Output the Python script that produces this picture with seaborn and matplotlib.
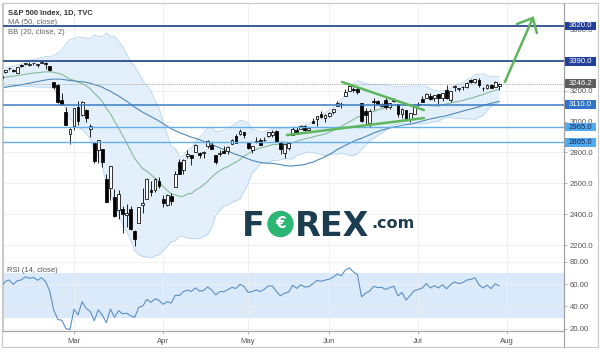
import numpy as np
import pandas as pd
import matplotlib
matplotlib.use("Agg")
import matplotlib.pyplot as plt
import seaborn as sns
from matplotlib.patches import Rectangle, Ellipse
from matplotlib.lines import Line2D
from matplotlib.ticker import FormatStrFormatter

# ---------------- data ----------------
# closes before the visible window (used to seed MA / BB / RSI)
warmup_close = [
    3066.9, 3078.3, 3074.6, 3076.8, 3085.2, 3093.1, 3087.0, 3091.8, 3094.0, 3096.6,
    3120.5, 3122.0, 3120.2, 3108.5, 3103.5, 3110.3, 3133.6, 3140.5, 3153.6, 3141.0,
    3113.9, 3093.2, 3112.8, 3117.4, 3145.9, 3136.0, 3132.5, 3141.6, 3168.6, 3168.8,
    3191.5, 3192.5, 3191.1, 3205.4, 3221.2, 3224.0, 3223.4, 3239.9, 3240.0, 3221.3, 3230.8,
    3257.9, 3234.9, 3246.3, 3237.2, 3253.1, 3274.7, 3265.4, 3288.1, 3283.2, 3289.3,
    3316.8, 3329.6, 3321.0, 3321.7, 3325.5, 3295.5, 3243.6, 3276.2, 3273.4, 3283.7, 3225.5]

holidays = ["2020-02-17", "2020-04-10", "2020-05-25", "2020-07-03"]

opens = [
    3235.7, 3280.6, 3324.9, 3344.9, 3335.5, 3318.3, 3365.9, 3370.5, 3365.9, 3378.1,
    3369.0, 3380.4, 3380.5, 3360.5, 3257.6, 3238.9, 3139.9, 3062.5, 2916.9,
    2974.3, 3096.5, 3045.8, 3075.7, 2954.2, 2863.9, 2813.5, 2825.6, 2630.9, 2570.0,
    2508.6, 2425.7, 2436.5, 2393.5, 2431.9, 2290.7, 2344.4, 2457.8, 2501.3, 2555.9, 2559.0, 2614.7,
    2498.1, 2458.5, 2514.9, 2578.3, 2738.7, 2685.0, 2777.0, 2782.5, 2805.1, 2795.6,
    2799.3, 2842.4, 2845.6, 2784.8, 2787.9, 2810.4, 2812.6, 2854.7, 2910.0, 2918.5, 2930.9,
    2869.1, 2815.0, 2868.9, 2883.1, 2878.3, 2908.8, 2915.5, 2939.5, 2865.9, 2794.5,
    2830.0, 2913.9, 2948.6, 2953.6, 2970.0, 2948.1, 3004.1, 3015.7, 3046.6, 3025.2,
    3038.8, 3064.2, 3098.9, 3111.6, 3163.8, 3199.9, 3213.3, 3213.4, 3123.5, 3071.0,
    2993.8, 3131.0, 3136.1, 3101.6, 3140.3, 3094.4, 3138.7, 3114.4, 3046.6, 3073.2, 3018.6, 3050.2,
    3105.9, 3143.6, 3155.3, 3166.4, 3153.1, 3176.2, 3152.5, 3205.1, 3141.1, 3226.0,
    3208.4, 3224.2, 3224.3, 3268.5, 3254.9, 3271.6, 3218.6, 3219.8, 3234.3, 3227.2, 3231.8]

highs = [
    3268.4, 3306.9, 3337.6, 3348.0, 3341.4, 3352.3, 3375.6, 3381.5, 3385.1, 3380.7,
    3375.0, 3393.5, 3389.2, 3360.8, 3259.8, 3247.0, 3182.5, 3097.1, 2959.7,
    3091.0, 3136.7, 3131.0, 3083.0, 2985.9, 2863.9, 2882.6, 2825.6, 2660.9, 2711.3,
    2563.0, 2553.9, 2453.6, 2467.0, 2453.0, 2300.7, 2449.7, 2571.4, 2637.0, 2615.9, 2631.8, 2641.4,
    2522.8, 2533.2, 2538.2, 2676.9, 2756.9, 2760.8, 2818.6, 2782.5, 2851.9, 2801.9,
    2806.5, 2879.2, 2869.0, 2785.5, 2815.1, 2844.9, 2842.7, 2887.7, 2921.2, 2954.9, 2930.9,
    2869.1, 2844.2, 2898.2, 2891.1, 2901.9, 2932.2, 2944.3, 2945.8, 2874.1, 2852.8,
    2865.0, 2968.1, 2964.2, 2980.3, 2978.5, 2956.8, 3021.7, 3036.3, 3068.7, 3049.2,
    3062.2, 3081.1, 3130.9, 3128.9, 3211.7, 3233.1, 3222.7, 3223.3, 3123.5, 3088.4,
    3079.8, 3153.5, 3141.2, 3120.0, 3155.5, 3120.9, 3154.9, 3115.0, 3086.3, 3073.7, 3053.9, 3111.5,
    3128.4, 3165.8, 3182.6, 3184.2, 3171.8, 3179.8, 3186.8, 3235.3, 3201.0, 3238.3,
    3220.4, 3233.5, 3258.6, 3277.3, 3279.3, 3280.0, 3227.3, 3241.4, 3243.7, 3264.7, 3250.9]

lows = [
    3235.7, 3280.6, 3313.8, 3334.4, 3322.1, 3317.8, 3352.7, 3369.7, 3360.5, 3366.2,
    3355.6, 3378.8, 3341.0, 3328.5, 3214.7, 3118.8, 3109.0, 2977.4, 2855.8,
    2945.2, 2976.6, 3034.4, 2999.8, 2901.5, 2734.4, 2734.0, 2707.2, 2478.9, 2492.4,
    2380.9, 2367.0, 2280.5, 2319.8, 2295.6, 2191.9, 2344.4, 2407.5, 2500.7, 2520.0, 2545.3, 2571.2,
    2447.5, 2455.8, 2460.0, 2574.6, 2657.7, 2663.3, 2762.4, 2721.2, 2805.1, 2761.5,
    2764.3, 2830.9, 2820.4, 2727.1, 2776.0, 2794.3, 2791.8, 2852.9, 2860.7, 2912.2, 2892.5,
    2821.6, 2797.9, 2863.6, 2847.7, 2876.5, 2902.9, 2903.4, 2869.6, 2793.2, 2766.6,
    2816.8, 2913.9, 2922.4, 2953.6, 2938.6, 2933.6, 2988.2, 2969.8, 3023.4, 2998.6,
    3031.5, 3051.6, 3098.9, 3090.4, 3163.8, 3196.0, 3193.1, 3181.5, 2999.5, 2984.5,
    2965.7, 3076.1, 3108.0, 3093.5, 3083.1, 3079.4, 3127.1, 3032.1, 3024.0, 3004.6, 2999.7, 3047.8,
    3101.2, 3124.5, 3155.3, 3142.9, 3136.5, 3115.7, 3136.2, 3149.4, 3127.7, 3200.8,
    3198.6, 3205.7, 3215.2, 3247.8, 3253.1, 3222.7, 3200.1, 3214.3, 3216.2, 3227.2, 3204.1]

closes = [
    3248.9, 3297.6, 3334.7, 3345.8, 3327.7, 3352.1, 3357.8, 3379.5, 3373.9, 3380.2,
    3370.3, 3386.2, 3373.2, 3337.8, 3225.9, 3128.2, 3116.4, 2978.8, 2954.2,
    3090.2, 3003.4, 3130.1, 3023.9, 2972.4, 2746.6, 2882.2, 2741.4, 2480.6, 2711.0,
    2386.1, 2529.2, 2398.1, 2409.4, 2304.9, 2237.4, 2447.3, 2475.6, 2630.1, 2541.5, 2626.7, 2584.6,
    2470.5, 2526.9, 2488.7, 2663.7, 2659.4, 2750.0, 2789.8, 2761.6, 2846.1, 2783.4,
    2799.6, 2874.6, 2823.2, 2736.6, 2799.3, 2797.8, 2836.7, 2878.5, 2863.4, 2939.5, 2912.4,
    2830.7, 2842.7, 2868.4, 2848.4, 2881.2, 2929.8, 2930.3, 2870.1, 2820.0, 2852.5,
    2863.7, 2953.9, 2922.9, 2971.6, 2948.5, 2955.5, 2991.8, 3036.1, 3029.7, 3044.3,
    3055.7, 3080.8, 3122.9, 3112.4, 3193.9, 3232.4, 3207.2, 3190.1, 3002.1, 3041.3,
    3066.6, 3124.7, 3113.5, 3115.3, 3097.7, 3117.9, 3131.3, 3050.3, 3083.8, 3009.1, 3053.2, 3100.3,
    3115.9, 3130.0, 3179.7, 3145.3, 3169.9, 3152.1, 3185.0, 3155.2, 3197.5, 3226.6,
    3215.6, 3224.7, 3251.8, 3257.3, 3276.0, 3235.7, 3215.6, 3239.4, 3218.4, 3258.4, 3246.2]

level_prices = [3620.0, 3390.0, 3110.0, 2965.0, 2865.0]
last_price = 3246.2
month_names = ["Mar", "Apr", "May", "Jun", "Jul", "Aug"]
price_ticks = [2200, 2400, 2600, 2800, 3000, 3200, 3400, 3600]
rsi_ticks = [20, 40, 60, 80]

# hand-drawn annotations (bar position, price)
trend_upper_x, trend_upper_y = [85.2, 105.4], [3257, 3075]
trend_lower_x, trend_lower_y = [71.6, 105.4], [2913, 3023]
arrow_x, arrow_y = [125.4, 132.3], [3257, 3672]
arrow_head_x, arrow_head_y = [128.4, 132.3, 133.3], [3633, 3672, 3575]

# ---------------- indicators ----------------
dates = pd.bdate_range("2020-02-03", "2020-07-30", freq="C", holidays=holidays)
n = len(closes)
full = pd.Series(warmup_close + closes, dtype=float)
ma50 = full.rolling(50).mean().to_numpy()[-n:]
basis = full.rolling(20).mean()
sd = full.rolling(20).std(ddof=0)
bb_up = (basis + 2 * sd).to_numpy()[-n:]
bb_lo = (basis - 2 * sd).to_numpy()[-n:]
basis = basis.to_numpy()[-n:]
delta = full.diff()
gain = delta.clip(lower=0).ewm(alpha=1 / 14, adjust=False).mean()
loss = (-delta.clip(upper=0)).ewm(alpha=1 / 14, adjust=False).mean()
rsi = (100 - 100 / (1 + gain / loss)).to_numpy()[-n:]

x = np.arange(n)
o, h, l, c = map(np.asarray, (opens, highs, lows, closes))

month_pos = []
for m in [3, 4, 5, 6, 7]:
    month_pos.append(int(np.argmax(dates.month == m)))
month_pos.append(n - 1 + int(np.busday_count("2020-07-30", "2020-08-03")))

# ---------------- figure ----------------
sns.set_theme(style="white")
plt.rcParams["font.family"] = ["Liberation Sans", "DejaVu Sans"]

W, H = 600, 352
fig = plt.figure(figsize=(W / 100, H / 100), dpi=100)
fx = lambda px: px / W
fy = lambda py: 1 - py / H

ax = fig.add_axes([fx(3), fy(257.7), fx(561), (257.7 - 3) / H])
ax2 = fig.add_axes([fx(3), fy(330.7), fx(561), (330.7 - 257.7) / H], sharex=ax)

grid_c = "#eeeeee"
for a in (ax, ax2):
    a.set_axisbelow(True)
    a.grid(True, color=grid_c, lw=0.6)
    a.set_facecolor("white")

# Bollinger band
ax.fill_between(x, bb_lo, bb_up, color="#e3f0fb", zorder=1, lw=0)
sns.lineplot(x=x, y=bb_up, ax=ax, color="#b6d5f0", lw=0.6, zorder=2)
sns.lineplot(x=x, y=bb_lo, ax=ax, color="#b6d5f0", lw=0.6, zorder=2)
sns.lineplot(x=x, y=basis, ax=ax, color="#86ba98", lw=0.8, zorder=2)
sns.lineplot(x=x, y=ma50, ax=ax, color="#4f89b8", lw=0.8, zorder=2)

# last price line
ax.axhline(last_price, color="#a8a8a8", lw=0.6, ls=(0, (1.5, 1.2)), zorder=2)

# candles
up = c >= o
ax.vlines(x, l, h, color="black", lw=0.6, zorder=3)
body = np.maximum(np.abs(c - o), 3.0)
ax.bar(x, body, bottom=np.minimum(o, c), width=0.7,
       color=np.where(up, "white", "black"), edgecolor="black", linewidth=0.55, zorder=4)

# horizontal levels
lvl_line = ["#2b4b91", "#2b4b91", "#3a7cc4", "#66aee8", "#66aee8"]
lvl_lw = [1.3, 1.3, 1.1, 1.0, 1.0]
lvl_box = ["#22409a", "#22409a", "#2f74c8", "#52aaf0", "#52aaf0"]
lvl_txt = ["white", "white", "white", "#15264d", "#15264d"]
for p, lc, lw in zip(level_prices, lvl_line, lvl_lw):
    ax.axhline(p, color=lc, lw=lw, zorder=5)

# trend lines and arrow
green = "#5db65b"
ax.plot(trend_upper_x, trend_upper_y, color=green, lw=1.8, solid_capstyle="round", zorder=6)
ax.plot(trend_lower_x, trend_lower_y, color=green, lw=1.8, solid_capstyle="round", zorder=6)
ax.plot(arrow_x, arrow_y, color=green, lw=1.8, solid_capstyle="round", zorder=6, clip_on=False)
ax.plot(arrow_head_x, arrow_head_y, color=green, lw=1.8, solid_capstyle="round",
        solid_joinstyle="miter", zorder=6, clip_on=False)

# axes limits / ticks
ax.set_xlim(1.47, 140.0)
ax.set_ylim(2118, 3769)
ax2.set_ylim(18.2, 83.6)

tick_c = "#555555"
ax.yaxis.tick_right()
ax.set_yticks(price_ticks)
ax.yaxis.set_major_formatter(FormatStrFormatter("%.1f"))
ax.tick_params(axis="y", right=True, length=2.5, width=0.5, color="#999999",
               labelsize=5.6, labelcolor=tick_c, pad=1.5)
ax.set_xticks(month_pos)
ax.tick_params(axis="x", bottom=False, labelbottom=False)
ax.set_xlabel("")
ax.set_ylabel("")

# RSI panel
ax2.axhspan(30, 70, color="#dbeafa", lw=0, zorder=0.5)
sns.lineplot(x=x, y=rsi, ax=ax2, color="#5b8fc4", lw=0.8, zorder=3)
ax2.yaxis.tick_right()
ax2.set_yticks(rsi_ticks)
ax2.yaxis.set_major_formatter(FormatStrFormatter("%.2f"))
ax2.tick_params(axis="y", right=True, length=2.5, width=0.5, color="#999999",
                labelsize=5.6, labelcolor=tick_c, pad=1.5)
ax2.set_xticks(month_pos)
ax2.set_xticklabels(month_names)
ax2.tick_params(axis="x", bottom=True, length=2.5, width=0.5, color="#999999",
                labelsize=5.6, labelcolor=tick_c, pad=2.5)
ax2.set_xlabel("")
ax2.set_ylabel("")

# spines
for a in (ax, ax2):
    for s in a.spines.values():
        s.set_linewidth(0.8)
    a.spines["left"].set_color("#cccccc")
    a.spines["right"].set_color("#a0a0a0")
    a.spines["bottom"].set_color("#a0a0a0")
ax.spines["top"].set_color("#cccccc")
ax2.spines["top"].set_visible(False)

# price labels on the right scale
ytr = ax.get_yaxis_transform()
hh = 4.2 / ((257.7 - 3) / (3769 - 2118))
bw = 32 / 561
for p, bc, tc in zip(level_prices + [last_price], lvl_box + ["#5e5e5e"], lvl_txt + ["white"]):
    ax.add_patch(Rectangle((1.0, p - hh), bw, 2 * hh, transform=ytr, facecolor=bc,
                           edgecolor="none", clip_on=False, zorder=10))
    ax.text(1.0 + 5 / 561, p, f"{p:.1f}", transform=ytr, ha="left", va="center",
            fontsize=5.6, color=tc, zorder=11, clip_on=False)

# titles
fig.text(fx(8), fy(13), "S&P 500 Index, 1D, TVC", fontsize=5.4, weight="bold",
         color="#333333", va="center")
fig.text(fx(8), fy(23), "MA (50, close)", fontsize=5.5, color="#666666", va="center")
fig.text(fx(8), fy(33), "BB (20, close, 2)", fontsize=5.5, color="#666666", va="center")
fig.text(fx(7), fy(271), "RSI (14, close)", fontsize=5.5, color="#555555", va="center")

# FOREX.com logo
navy = "#1b3d4f"
fig.text(fx(242), fy(236), "F", fontsize=24, weight="bold", color=navy,
         family="DejaVu Sans", va="baseline", ha="left")
fig.add_artist(Ellipse((fx(280.5), fy(224)), 25 / W, 25 / H, transform=fig.transFigure,
                       color="#2bb673", zorder=5))
fig.text(fx(280.5), fy(224), "€", fontsize=11, weight="bold", color="white",
         family="DejaVu Sans", va="center", ha="center", zorder=6)
fig.text(fx(295), fy(236), "REX", fontsize=24, weight="bold", color=navy,
         family="DejaVu Sans", va="baseline", ha="left")
fig.text(fx(371), fy(228.5), ".com", fontsize=11.5, weight="bold", color=navy,
         family="DejaVu Sans", va="baseline", ha="left")

# frame
fig.add_artist(Rectangle((fx(2), fy(347)), 596 / W, 344 / H, transform=fig.transFigure,
                         fill=False, ec="#c8c8c8", lw=0.8))
fig.add_artist(Line2D([fx(564), fx(564)], [fy(347), fy(3)], transform=fig.transFigure,
                      color="#a0a0a0", lw=0.8))

fig.savefig("out.png", dpi=100, facecolor="white")
